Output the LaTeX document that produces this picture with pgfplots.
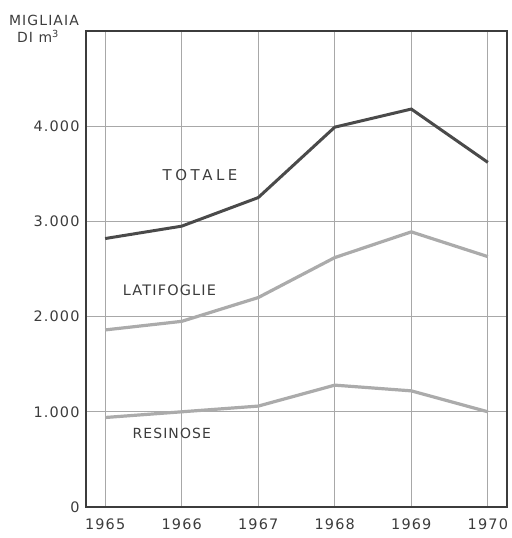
\documentclass[border=0pt]{standalone}
\usepackage{fontspec}
\setmainfont{DejaVu Sans}
\newfontfamily\widefont[LetterSpace=24]{DejaVu Sans}
\newfontfamily\midfont[LetterSpace=8]{DejaVu Sans}
\newfontfamily\tickfont[LetterSpace=8]{DejaVu Sans}
\usepackage{pgfplots}
\pgfplotsset{compat=1.18}
\definecolor{ink}{HTML}{3C3C3C}
\definecolor{dark}{HTML}{4A4A4A}
\definecolor{light}{HTML}{ABABAB}
\definecolor{gridc}{HTML}{A8A8A8}
\begin{document}
\begin{tikzpicture}[x=1bp,y=1bp]
\begin{axis}[
  at={(0,0)}, anchor=south west,
  scale only axis, width=421bp, height=476bp,
  xmin=1964.75, xmax=1970.25, ymin=0, ymax=5000,
  xtick={1965,1966,1967,1968,1969,1970},
  xticklabels={1965,1966,1967,1968,1969,1970},
  ytick={0,1000,2000,3000,4000},
  yticklabels={0,1.000,2.000,3.000,4.000},
  major tick length=0pt,
  grid=major,
  major grid style={gridc, line width=0.8bp},
  axis line style={ink, line width=1.1bp},
  tick label style={font=\fontsize{14.5}{16}\selectfont\tickfont, text=ink},
  xticklabel style={yshift=-8bp},
  yticklabel style={xshift=-3bp},
  clip=false,
]
\addplot[dark, line width=3bp] coordinates {
(1965,2820) (1966,2950) (1967,3250) (1968,3990) (1969,4180) (1970,3620)};
\addplot[light, line width=3.2bp] coordinates {
(1965,1860) (1966,1950) (1967,2200) (1968,2620) (1969,2890) (1970,2630)};
\addplot[light, line width=3.2bp] coordinates {
(1965,940) (1966,1000) (1967,1060) (1968,1280) (1969,1220) (1970,1000)};
\node[font=\fontsize{15}{17}\selectfont\widefont, text=ink] at (axis cs:1966.24,3490) {TOTALE};
\node[font=\fontsize{14.5}{17}\selectfont\midfont, text=ink] at (axis cs:1965.84,2280) {LATIFOGLIE};
\node[font=\fontsize{14}{17}\selectfont\midfont, text=ink] at (axis cs:1965.87,770) {RESINOSE};
\end{axis}
\node[font=\fontsize{14}{16}\selectfont\tickfont, text=ink] at (-42bp,487bp) {MIGLIAIA};
\node[font=\fontsize{14}{16}\selectfont\tickfont, text=ink] at (-48bp,471bp) {DI m\textsuperscript{3}};
\path (-86bp,-31bp) rectangle (424bp,507bp);
\end{tikzpicture}
\end{document}
